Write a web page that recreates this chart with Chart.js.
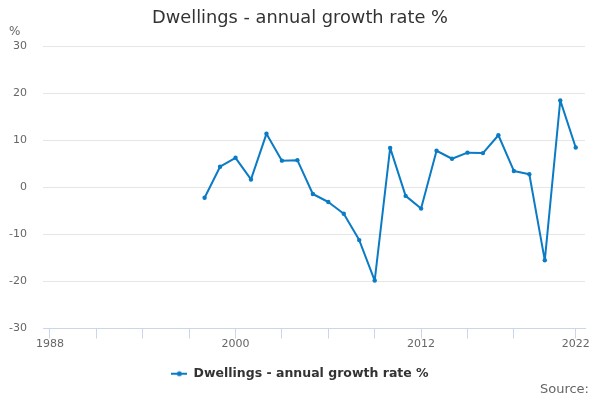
<!DOCTYPE html>
<html>
<head>
<meta charset="utf-8">
<script src="https://cdn.jsdelivr.net/npm/chart.js@4/dist/chart.umd.min.js"></script>
<style>
html,body{margin:0;padding:0;background:#fff;}
#wrap{width:600px;height:400px;}
</style>
</head>
<body>
<div id="wrap"><canvas id="c" width="600" height="400"></canvas></div>
<script>
const years = [1998,1999,2000,2001,2002,2003,2004,2005,2006,2007,2008,2009,2010,2011,2012,2013,2014,2015,2016,2017,2018,2019,2020,2021,2022];
const growth = [-2.2,4.4,6.3,1.7,11.4,5.7,5.8,-1.4,-3.1,-5.6,-11.2,-19.8,8.4,-1.8,-4.5,7.8,6.1,7.4,7.3,11.1,3.5,2.8,-15.5,18.5,8.5];
const xTickYears = [1988,1991,1994,1997,2000,2003,2006,2009,2012,2015,2018,2022];
const xLabelYears = [1988,2000,2012,2022];
const seriesName = 'Dwellings - annual growth rate %';
const titleText = 'Dwellings - annual growth rate %';
const yUnit = '%';
const sourceText = 'Source:';

const BLUE = '#0a7bc4';
const FONT = "'DejaVu Sans', sans-serif";

// legend symbol: line with dot
const sym = document.createElement('canvas');
sym.width = 16; sym.height = 8;
(function(){
  const g = sym.getContext('2d');
  g.strokeStyle = BLUE; g.lineWidth = 2;
  g.beginPath(); g.moveTo(0,4); g.lineTo(16,4); g.stroke();
  g.fillStyle = BLUE; g.beginPath(); g.arc(8,4,2.5,0,Math.PI*2); g.fill();
})();

const extraText = {
  id: 'extraText',
  afterDraw(chart) {
    const ctx = chart.ctx;
    ctx.save();
    ctx.font = "12px " + FONT;
    ctx.fillStyle = '#666666';
    ctx.textBaseline = 'middle';
    ctx.textAlign = 'left';
    ctx.fillText(yUnit, 9, 32);
    ctx.font = "13px " + FONT;
    ctx.textAlign = 'right';
    ctx.fillText(sourceText, 589, 390);
    ctx.restore();
  }
};

new Chart(document.getElementById('c'), {
  type: 'line',
  data: {
    datasets: [{
      label: seriesName,
      data: years.map((y, i) => ({x: y, y: growth[i]})),
      borderColor: BLUE,
      backgroundColor: BLUE,
      borderWidth: 2,
      borderJoinStyle: 'round',
      pointRadius: 2.2,
      pointHoverRadius: 3,
      pointBackgroundColor: BLUE,
      pointBorderWidth: 0,
      tension: 0
    }]
  },
  options: {
    responsive: false,
    animation: false,
    devicePixelRatio: 1,
    layout: { padding: { top: 0, left: 0, right: 0, bottom: 10 } },
    plugins: {
      title: {
        display: true,
        text: titleText,
        color: '#333333',
        font: { family: FONT, size: 17.8, weight: 'normal' },
        padding: { top: 8, bottom: 17 }
      },
      legend: {
        position: 'bottom',
        labels: {
          usePointStyle: true,
          pointStyleWidth: 16,
          padding: 10,
          color: '#333333',
          font: { family: FONT, size: 12.5, weight: 'bold' },
          generateLabels(chart) {
            const items = Chart.defaults.plugins.legend.labels.generateLabels(chart);
            items.forEach(it => { it.pointStyle = sym; });
            return items;
          }
        }
      },
      tooltip: { enabled: false }
    },
    scales: {
      x: {
        type: 'linear',
        min: 1987.55,
        max: 2022.6,
        afterBuildTicks(scale) {
          scale.ticks = xTickYears.map(v => ({value: v}));
        },
        afterFit(scale) { scale.height = 29; },
        ticks: {
          autoSkip: false,
          maxRotation: 0,
          color: '#666666',
          padding: -1,
          font: { family: FONT, size: 11 },
          callback(v) { return xLabelYears.includes(v) ? String(v) : ''; }
        },
        grid: {
          drawOnChartArea: false,
          drawTicks: true,
          tickLength: 10,
          color: '#ccd6eb',
          lineWidth: 1
        },
        border: { display: true, color: '#ccd6eb', width: 1 }
      },
      y: {
        min: -30,
        max: 30,
        afterFit(scale) { scale.width = 43; },
        ticks: {
          stepSize: 10,
          color: '#666666',
          padding: 16,
          font: { family: FONT, size: 11 }
        },
        grid: {
          color: '#e6e6e6',
          drawTicks: false,
          lineWidth: 1
        },
        border: { display: false }
      },
      spacer: {
        type: 'linear',
        position: 'right',
        display: true,
        afterFit(scale) { scale.width = 15; },
        ticks: { display: false },
        grid: { display: false, drawTicks: false },
        border: { display: false }
      }
    }
  },
  plugins: [extraText]
});
</script>
</body>
</html>
